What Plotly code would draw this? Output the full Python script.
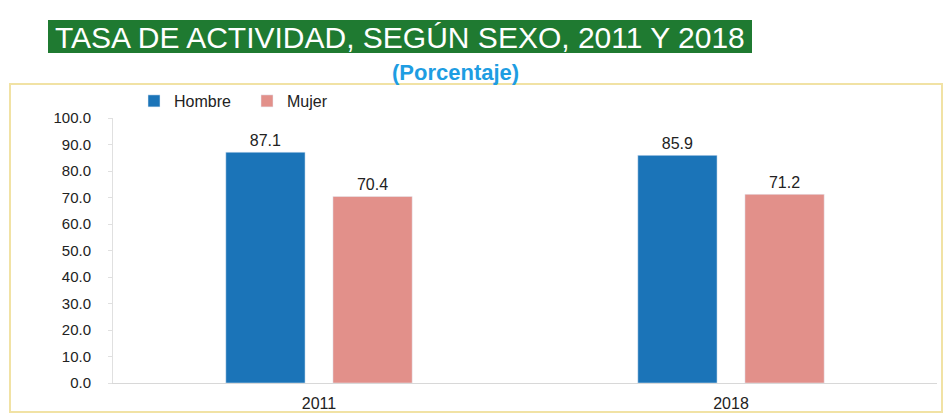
import plotly.graph_objects as go

years = ["2011", "2018"]
hombre = [87.1, 85.9]
mujer = [70.4, 71.2]
y_ticks = [0, 10, 20, 30, 40, 50, 60, 70, 80, 90, 100]

W, H = 946, 415
L, R, T, B = 113, 9, 118, 32
pw, ph = W - L - R, H - T - B


def px(x):
    return (x - L) / pw


def py(y):
    return (H - B - y) / ph


fig = go.Figure()
fig.add_trace(go.Bar(name="Hombre", x=years, y=hombre, marker_color="#1b74b8",
                     text=hombre, texttemplate="%{y:.1f}", textposition="outside",
                     textfont=dict(size=16, color="#222"), cliponaxis=False))
fig.add_trace(go.Bar(name="Mujer", x=years, y=mujer, marker_color="#e2908a",
                     text=mujer, texttemplate="%{y:.1f}", textposition="outside",
                     textfont=dict(size=16, color="#222"), cliponaxis=False))

fig.update_layout(
    width=W, height=H,
    margin=dict(l=L, r=R, t=T, b=B),
    paper_bgcolor="white", plot_bgcolor="white",
    font=dict(family="Liberation Sans, Arial, sans-serif", color="#222"),
    barmode="group", bargap=0.48, bargroupgap=0.26,
    showlegend=True,
    legend=dict(orientation="h", x=px(134), xanchor="left", y=py(101), yanchor="middle",
                font=dict(size=16, color="#222"), bgcolor="rgba(0,0,0,0)",
                itemwidth=30, tracegroupgap=0, entrywidth=68, entrywidthmode="pixels"),
    xaxis=dict(showline=True, linecolor="#d8d8d8", linewidth=1, ticks="",
               tickfont=dict(size=16, color="#222"), ticklabelstandoff=6,
               automargin=False),
    yaxis=dict(range=[0, 100], tickvals=y_ticks, tickformat=".1f", showgrid=False,
               showline=True, linecolor="#e0e0e0", linewidth=1,
               ticks="outside", ticklen=4, tickcolor="#e0e0e0",
               ticklabelstandoff=14, tickfont=dict(size=15, color="#222"),
               zeroline=False, automargin=False),
)

# chart frame
fig.add_shape(type="rect", xref="paper", yref="paper",
              x0=px(10), x1=px(942), y0=py(412), y1=py(84),
              line=dict(color="#f1e2a4", width=2), layer="below")

# title box
fig.add_shape(type="rect", xref="paper", yref="paper",
              x0=px(48), x1=px(752), y0=py(53), y1=py(20),
              fillcolor="#1f7a31", line=dict(width=0))
fig.add_annotation(xref="paper", yref="paper", x=px(400), y=py(37),
                   text="TASA DE ACTIVIDAD, SEGÚN SEXO, 2011 Y 2018", showarrow=False,
                   xanchor="center", yanchor="middle",
                   font=dict(family="Liberation Sans Narrow, Arial Narrow, Liberation Sans, sans-serif",
                             size=30, color="white"))
fig.add_annotation(xref="paper", yref="paper", x=px(455), y=py(72),
                   text="<b>(Porcentaje)</b>", showarrow=False,
                   xanchor="center", yanchor="middle",
                   font=dict(family="Liberation Sans, Arial, sans-serif",
                             size=22, color="#1e9de2"))

fig.write_html("out.html", config={"displayModeBar": False},
               post_script="document.body.style.margin='0';document.body.style.overflow='hidden';")
